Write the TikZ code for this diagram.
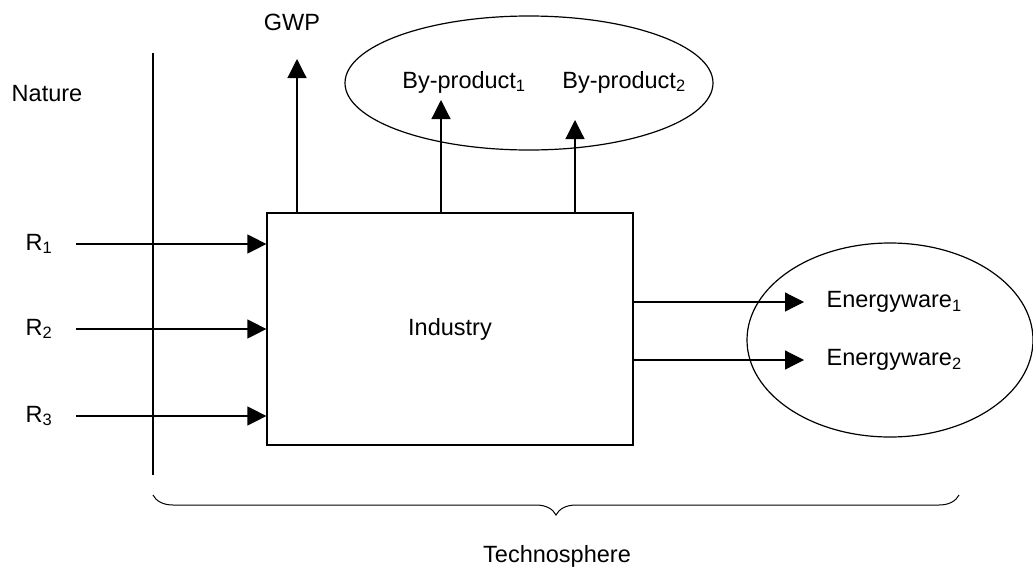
\documentclass[tikz,border=0pt]{standalone}
\usepackage{fontspec}
\setmainfont{Liberation Sans}
\usetikzlibrary{arrows.meta,decorations.pathreplacing}

\begin{document}
\begin{tikzpicture}[x=1pt,y=-1pt,line width=1.2pt,
  >={Triangle[length=19pt,width=19pt]},
  every node/.style={font=\fontsize{23.5}{28}\selectfont},
  label node/.style={inner sep=0pt},
  box node/.style={draw,minimum width=366pt,minimum height=232pt}]

  \useasboundingbox (0,0) rectangle (1033,571);

  % nature / technosphere border
  \draw (153,53) -- (153,475);
  \node[label node] (nature) at (47,94) {Nature};

  % the industry box
  \node[box node] (ind) at (450,329) {Industry};

  % resources
  \node[label node,anchor=west] (r1) at (25,244) {R\textsubscript{1}};
  \node[label node,anchor=west] (r2) at (25,329) {R\textsubscript{2}};
  \node[label node,anchor=west] (r3) at (25,416) {R\textsubscript{3}};
  \coordinate (s1) at (76,244);
  \coordinate (s2) at (76,329);
  \coordinate (s3) at (76,416);
  \draw[->] (s1) -- (ind.west |- s1);
  \draw[->] (s2) -- (ind.west |- s2);
  \draw[->] (s3) -- (ind.west |- s3);

  % emissions and by-products
  \node[label node] (gwp) at (292,22) {GWP};
  \draw (529,83) ellipse [x radius=184, y radius=67];
  \node[label node] (bp1) at (464,82) {By-product\textsubscript{1}};
  \node[label node] (bp2) at (624,82) {By-product\textsubscript{2}};
  \coordinate (t0) at (297,59);
  \coordinate (t1) at (441,100);
  \coordinate (t2) at (575,120);
  \draw[->] (ind.north -| t0) -- (t0);
  \draw[->] (ind.north -| t1) -- (t1);
  \draw[->] (ind.north -| t2) -- (t2);

  % energyware
  \draw (890,340) ellipse [x radius=143, y radius=97];
  \node[label node,anchor=west] (ew1) at (826,302) {Energyware\textsubscript{1}};
  \node[label node,anchor=west] (ew2) at (826,360) {Energyware\textsubscript{2}};
  \coordinate (e1) at (804,302);
  \coordinate (e2) at (804,360);
  \draw[->] (ind.east |- e1) -- (e1);
  \draw[->] (ind.east |- e2) -- (e2);

  % technosphere brace
  \draw[line width=1pt,decorate,decoration={brace,amplitude=20pt}]
    (959,495) -- (153,495);
  \node[label node] (techno) at (557,556) {Technosphere};
\end{tikzpicture}
\end{document}
